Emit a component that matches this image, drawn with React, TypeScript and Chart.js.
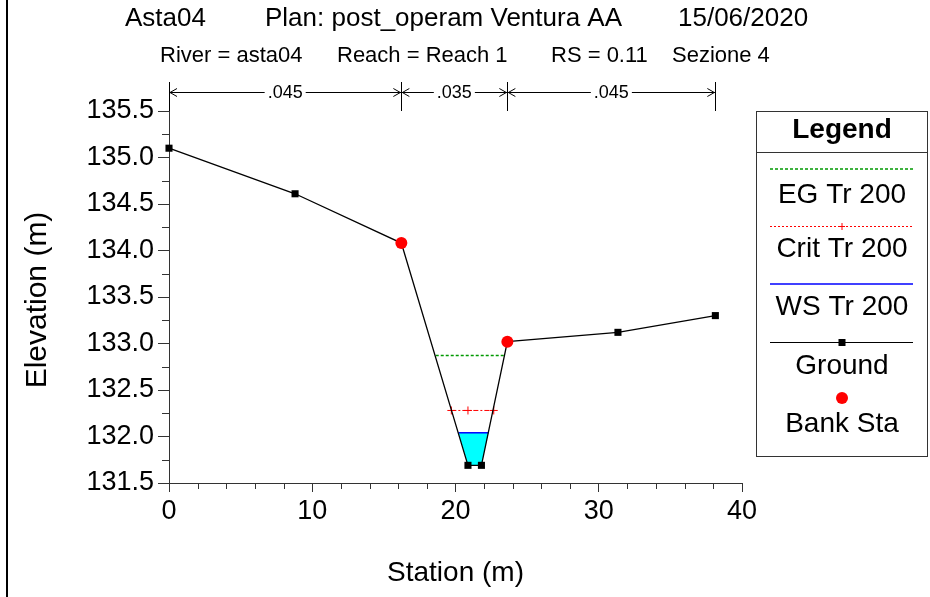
import React, { useEffect, useRef } from 'react';
import { Chart, registerables } from 'chart.js';

Chart.register(...registerables);

// ---- data ----
const groundStation = [0, 8.8, 16.22, 20.87, 21.81, 23.62, 31.34, 38.14];
const groundElev = [135.1, 134.61, 134.08, 131.69, 131.69, 133.02, 133.12, 133.3];
const bankStation = [16.22, 23.62];
const bankElev = [134.08, 133.02];
const egStation = [18.62, 23.43];
const egElev = [132.87, 132.87];
const critStation = [19.71, 20.87, 22.67];
const critElev = [132.28, 132.28, 132.28];
const wsStation = [20.2, 22.3];
const wsElev = [132.04, 132.04];
const waterStation = [20.2, 20.87, 21.81, 22.3];
const waterElev = [132.04, 131.69, 131.69, 132.04];
const manningBreaks = [0, 16.22, 23.62, 38.14];
const manningValues = ['.045', '.035', '.045'];
const titleParts = ['Asta04', 'Plan: post_operam Ventura AA', '15/06/2020'];
const subtitleParts = ['River = asta04', 'Reach = Reach 1', 'RS = 0.11', 'Sezione 4'];
const legendLabels = ['EG Tr 200', 'Crit Tr 200', 'WS Tr 200', 'Ground', 'Bank Sta'];
const xAxisTitle = 'Station (m)';
const yAxisTitle = 'Elevation (m)';

const FONT = '"Liberation Sans", Arial, sans-serif';

const pts = (xs: number[], ys: number[]) => xs.map((x, i) => ({ x, y: ys[i] }));

const overlayPlugin = {
  id: 'overlay',
  afterDraw(chart: any) {
    const ctx = chart.ctx as CanvasRenderingContext2D;
    const xs = chart.scales.x;
    const area = chart.chartArea;
    ctx.save();

    // left frame line
    ctx.fillStyle = '#000';
    ctx.fillRect(6, 0, 2, 597);

    // titles
    ctx.fillStyle = '#000';
    ctx.textBaseline = 'middle';
    ctx.textAlign = 'left';
    ctx.font = `26px ${FONT}`;
    const tX = [125, 265, 678];
    titleParts.forEach((t, i) => ctx.fillText(t, tX[i], 19));
    ctx.font = `22px ${FONT}`;
    const sX = [160, 337, 551, 672];
    subtitleParts.forEach((t, i) => ctx.fillText(t, sX[i], 56));

    // Manning n roughness markers
    ctx.strokeStyle = '#000';
    ctx.lineWidth = 1;
    const topY = 82;
    const arrowY = 92;
    manningBreaks.forEach((b) => {
      const px = Math.round(xs.getPixelForValue(b)) + 0.5;
      ctx.beginPath();
      ctx.moveTo(px, topY);
      ctx.lineTo(px, area.top);
      ctx.stroke();
    });
    ctx.font = `18px ${FONT}`;
    ctx.textAlign = 'center';
    for (let i = 0; i < manningValues.length; i++) {
      const x1 = xs.getPixelForValue(manningBreaks[i]);
      const x2 = xs.getPixelForValue(manningBreaks[i + 1]);
      const mid = (x1 + x2) / 2;
      const w = ctx.measureText(manningValues[i]).width;
      ctx.beginPath();
      ctx.moveTo(x1, arrowY + 0.5);
      ctx.lineTo(mid - w / 2 - 3, arrowY + 0.5);
      ctx.moveTo(mid + w / 2 + 3, arrowY + 0.5);
      ctx.lineTo(x2, arrowY + 0.5);
      // arrow heads
      ctx.moveTo(x1 + 8, arrowY - 3.5);
      ctx.lineTo(x1 + 1, arrowY + 0.5);
      ctx.lineTo(x1 + 8, arrowY + 4.5);
      ctx.moveTo(x2 - 8, arrowY - 3.5);
      ctx.lineTo(x2 - 1, arrowY + 0.5);
      ctx.lineTo(x2 - 8, arrowY + 4.5);
      ctx.stroke();
      ctx.fillText(manningValues[i], mid, arrowY + 1);
    }

    // minor ticks
    ctx.strokeStyle = '#333';
    ctx.beginPath();
    for (let v = 2; v < 40; v += 2) {
      if (v % 10 === 0) continue;
      const px = Math.round(xs.getPixelForValue(v)) + 0.5;
      ctx.moveTo(px, area.bottom);
      ctx.lineTo(px, area.bottom + 6);
    }
    const ys = chart.scales.y;
    for (let v = 131.75; v < 135.5; v += 0.5) {
      const py = Math.round(ys.getPixelForValue(v)) + 0.5;
      ctx.moveTo(area.left - 7, py);
      ctx.lineTo(area.left, py);
    }
    ctx.stroke();

    // axis titles
    ctx.fillStyle = '#000';
    ctx.font = `28px ${FONT}`;
    ctx.textAlign = 'center';
    ctx.textBaseline = 'middle';
    ctx.fillText(xAxisTitle, (area.left + area.right) / 2, 573);
    ctx.save();
    ctx.translate(38, (area.top + area.bottom) / 2 + 3);
    ctx.rotate(-Math.PI / 2);
    ctx.font = `30px ${FONT}`;
    ctx.fillText(yAxisTitle, 0, 0);
    ctx.restore();

    // legend
    const L = 756.5, R = 927.5, T = 111.5, B = 456.5;
    ctx.strokeStyle = '#333';
    ctx.lineWidth = 1;
    ctx.strokeRect(L, T, R - L, B - T);
    ctx.beginPath();
    ctx.moveTo(L, 152.5);
    ctx.lineTo(R, 152.5);
    ctx.stroke();
    const cx = (L + R) / 2;
    ctx.font = `bold 28px ${FONT}`;
    ctx.fillText('Legend', cx, 130);
    const lx1 = 770, lx2 = 913;
    // EG
    ctx.strokeStyle = '#009900';
    ctx.lineWidth = 1.5;
    ctx.setLineDash([3, 2]);
    ctx.beginPath(); ctx.moveTo(lx1, 169); ctx.lineTo(lx2, 169); ctx.stroke();
    // Crit
    ctx.strokeStyle = '#ff0000';
    ctx.lineWidth = 1;
    ctx.setLineDash([2, 2]);
    ctx.beginPath(); ctx.moveTo(lx1, 226.5); ctx.lineTo(lx2, 226.5); ctx.stroke();
    ctx.setLineDash([]);
    ctx.beginPath(); ctx.moveTo(cx - 3, 226.5); ctx.lineTo(cx + 3, 226.5);
    ctx.moveTo(cx, 223); ctx.lineTo(cx, 230); ctx.stroke();
    // WS
    ctx.strokeStyle = '#4040ff';
    ctx.lineWidth = 2;
    ctx.beginPath(); ctx.moveTo(lx1, 284); ctx.lineTo(lx2, 284); ctx.stroke();
    // Ground
    ctx.strokeStyle = '#000';
    ctx.lineWidth = 1;
    ctx.beginPath(); ctx.moveTo(lx1, 342.5); ctx.lineTo(lx2, 342.5); ctx.stroke();
    ctx.fillStyle = '#000';
    ctx.fillRect(cx - 3.5, 339, 7, 7);
    // Bank
    ctx.fillStyle = '#ff0000';
    ctx.beginPath(); ctx.arc(cx, 398, 6, 0, Math.PI * 2); ctx.fill();
    // labels
    ctx.fillStyle = '#000';
    ctx.font = `28px ${FONT}`;
    const ly = [195, 249, 307, 366, 424];
    legendLabels.forEach((t, i) => ctx.fillText(t, cx, ly[i]));

    ctx.restore();
  },
};

export default function App() {
  const ref = useRef<HTMLCanvasElement | null>(null);
  useEffect(() => {
    document.body.style.margin = '0';
    const canvas = ref.current!;
    const chart = new Chart(canvas, {
      type: 'line',
      data: {
        datasets: [
          {
            label: 'Bank Sta',
            data: pts(bankStation, bankElev),
            showLine: false,
            pointRadius: 6,
            pointStyle: 'circle',
            pointBackgroundColor: '#ff0000',
            pointBorderWidth: 0,
            borderColor: '#ff0000',
            clip: false,
          },
          {
            label: 'Ground',
            data: pts(groundStation, groundElev),
            borderColor: '#000',
            borderWidth: 1.3,
            pointStyle: 'rect',
            pointRadius: 5,
            pointBackgroundColor: '#000',
            pointBorderWidth: 0,
            tension: 0,
            clip: false,
          },
          {
            label: 'WS Tr 200',
            data: pts(wsStation, wsElev),
            borderColor: '#0000ff',
            borderWidth: 1.5,
            pointRadius: 0,
          },
          {
            label: 'Crit Tr 200',
            data: pts(critStation, critElev),
            borderColor: '#ff0000',
            borderWidth: 1,
            borderDash: [5, 2, 2, 2],
            pointStyle: 'cross',
            pointRadius: 4,
            pointBorderColor: '#ff0000',
            pointBorderWidth: 1,
          },
          {
            label: 'EG Tr 200',
            data: pts(egStation, egElev),
            borderColor: '#009900',
            borderWidth: 1.5,
            borderDash: [3, 2],
            pointRadius: 0,
          },
          {
            label: 'water',
            data: pts(waterStation, waterElev),
            borderWidth: 0,
            borderColor: 'rgba(0,0,0,0)',
            backgroundColor: '#00ffff',
            fill: 'shape',
            pointRadius: 0,
          },
        ],
      },
      options: {
        responsive: false,
        animation: false,
        events: [],
        layout: { padding: { left: 0, right: 188, top: 111, bottom: 0 } },
        plugins: {
          legend: { display: false },
          tooltip: { enabled: false },
          title: { display: false },
        },
        scales: {
          x: {
            type: 'linear',
            min: 0,
            max: 40,
            afterFit: (s: any) => { s.height = 114; },
            ticks: {
              stepSize: 10,
              color: '#000',
              font: { size: 27, family: FONT },
              padding: 3,
              maxRotation: 0,
              autoSkip: false,
            },
            grid: { drawOnChartArea: false, drawTicks: true, tickLength: 9, tickColor: '#333' },
            border: { color: '#333', width: 1 },
          },
          y: {
            type: 'linear',
            min: 131.5,
            max: 135.5,
            afterFit: (s: any) => { s.width = 169; },
            ticks: {
              stepSize: 0.5,
              color: '#000',
              font: { size: 27, family: FONT },
              padding: 4,
              callback: (v: any) => Number(v).toFixed(1),
            },
            grid: { drawOnChartArea: false, drawTicks: true, tickLength: 11, tickColor: '#333' },
            border: { color: '#333', width: 1 },
          },
        },
      },
      plugins: [overlayPlugin],
    } as any);
    return () => chart.destroy();
  }, []);
  return <canvas ref={ref} width={930} height={597} style={{ display: 'block' }} />;
}
